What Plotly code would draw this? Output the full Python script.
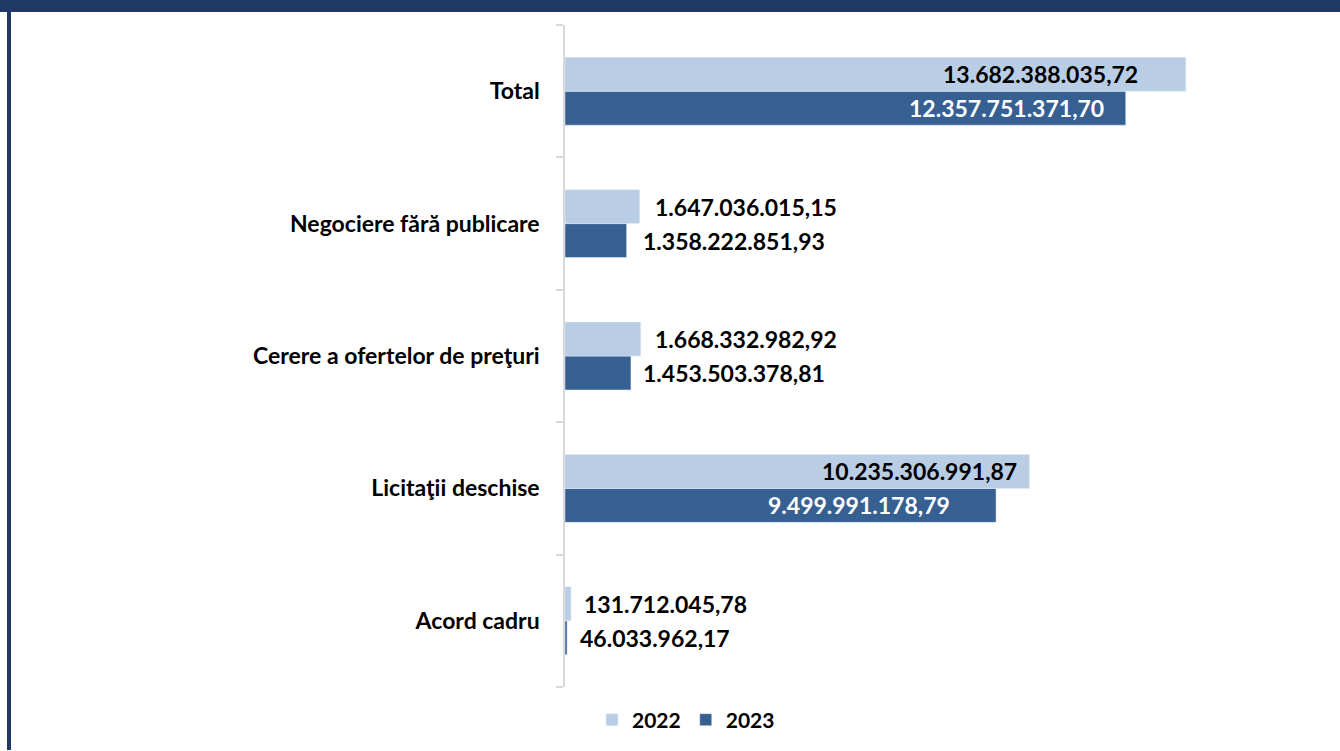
import plotly.graph_objects as go

categories = ["Acord cadru", "Licitaţii deschise", "Cerere a ofertelor de preţuri",
              "Negociere fără publicare", "Total"]
values_2022 = [131712045.78, 10235306991.87, 1668332982.92, 1647036015.15, 13682388035.72]
values_2023 = [46033962.17, 9499991178.79, 1453503378.81, 1358222851.93, 12357751371.70]
labels_2022 = ["131.712.045,78", "10.235.306.991,87", "1.668.332.982,92", "1.647.036.015,15", "13.682.388.035,72"]
labels_2023 = ["46.033.962,17", "9.499.991.178,79", "1.453.503.378,81", "1.358.222.851,93", "12.357.751.371,70"]

# style (label placement)
pos_2022 = ["out", "in", "out", "out", "in"]
pos_2023 = ["out", "in", "out", "out", "in"]
shift_2022 = [11, -10, 12, 13, -46]
shift_2023 = [11, -44, 10, 14, -20]

C22 = "#B9CDE5"
C23 = "#376092"
NAVY = "#1F3864"
FONT = "Lato"

W, H = 1340, 751
L, R, T, B = 565, 1340 - 1291, 25, 751 - 688
pw, ph = W - L - R, H - T - B

fig = go.Figure()
fig.add_trace(go.Bar(y=categories, x=values_2023, orientation="h", name="<b>2023</b>",
                     marker=dict(color=C23), hoverinfo="skip"))
fig.add_trace(go.Bar(y=categories, x=values_2022, orientation="h", name="<b>2022</b>",
                     marker=dict(color=C22), hoverinfo="skip"))

annots = []
for vals, labs, pos, sh, ysh, incol in [
    (values_2022, labels_2022, pos_2022, shift_2022, 17, "#000000"),
    (values_2023, labels_2023, pos_2023, shift_2023, -17, "#FFFFFF"),
]:
    for c, v, lab, p, s in zip(categories, vals, labs, pos, sh):
        annots.append(dict(x=v, y=c, xref="x", yref="y", text="<b>%s</b>" % lab,
                           showarrow=False, xanchor="right" if p == "in" else "left",
                           xshift=s, yshift=ysh,
                           font=dict(family=FONT, size=23,
                                     color=incol if p == "in" else "#000000")))

def px_x(x):
    return (x - L) / pw

def px_y(y):
    return (H - B - y) / ph

shapes = [
    dict(type="rect", xref="paper", yref="paper", x0=px_x(0), x1=px_x(W),
         y0=px_y(12), y1=px_y(0), fillcolor=NAVY, line=dict(width=0), layer="above"),
    dict(type="rect", xref="paper", yref="paper", x0=px_x(7), x1=px_x(11),
         y0=px_y(H), y1=px_y(0), fillcolor=NAVY, line=dict(width=0), layer="above"),
]

fig.update_layout(
    width=W, height=H,
    margin=dict(l=L, r=R, t=T, b=B),
    paper_bgcolor="white", plot_bgcolor="white",
    barmode="group", bargap=0.487, bargroupgap=0,
    font=dict(family=FONT, color="#000000"),
    xaxis=dict(range=[0, 16e9], showgrid=False, zeroline=False, showticklabels=False,
               showline=False, ticks=""),
    yaxis=dict(showgrid=False, zeroline=False, showline=True, linecolor="#D9D9D9",
               linewidth=1.5, ticks="outside", tickson="boundaries", ticklen=7,
               tickcolor="#D9D9D9", tickwidth=1.5, ticklabelstandoff=19,
               tickfont=dict(family=FONT, size=23, color="#000000"),
               tickvals=categories, ticktext=["<b>%s</b>" % c for c in categories]),
    showlegend=True,
    legend=dict(orientation="h", traceorder="reversed", x=px_x(686), xanchor="center",
                y=px_y(720), yanchor="middle",
                font=dict(family=FONT, size=21, color="#000000"),
                itemwidth=30),
    annotations=annots,
    shapes=shapes,
)

fig.write_html("out.html", config={"displayModeBar": False},
               post_script="document.body.style.margin='0';document.body.style.overflow='hidden';")
